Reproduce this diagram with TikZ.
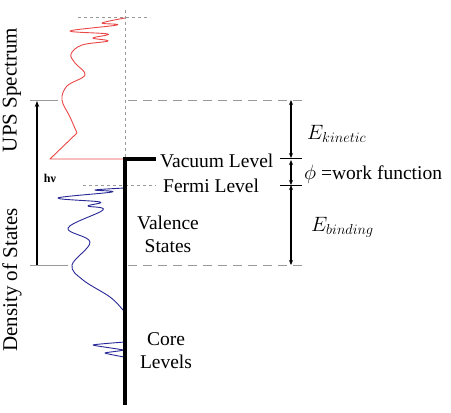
\documentclass[tikz,border=0pt]{standalone}
\usepackage{fontspec}
\setmainfont{Liberation Serif}
\usetikzlibrary{arrows.meta}

\definecolor{upsred}{RGB}{235,70,70}
\definecolor{dosblue}{RGB}{40,40,150}

\begin{document}
\begin{tikzpicture}[
    x=1pt, y=-1pt,
    level/.style={line width=3.4pt, black},
    guide/.style={gray!80, line width=0.8pt, dash pattern=on 3pt off 3pt},
    longguide/.style={gray!80, line width=0.8pt, dash pattern=on 9pt off 6pt},
    rule/.style={gray!80, line width=0.8pt},
    tick/.style={black, line width=0.9pt},
    gap/.style={{Stealth[length=5pt,width=4pt]}-{Stealth[length=5pt,width=4pt]},
                line width=1.3pt},
    photon/.style={-{Stealth[length=6pt,width=4.5pt]}, line width=1.3pt},
    spec/.style={line width=0.9pt, line join=round},
    label/.style={font=\fontsize{19.5}{23}\selectfont, inner sep=0pt},
    axis/.style={font=\fontsize{21}{24}\selectfont, inner sep=0pt, rotate=90},
]
\useasboundingbox (0,0) rectangle (451,413);

% Levels
\coordinate (vtop)  at (125,10);
\coordinate (vac)   at (125,159);
\coordinate (bot)   at (125,405);
\coordinate (vacR)  at (156,159);
\coordinate (fermL) at (83,185);
\coordinate (fermR) at (156,185);

% Energy scale on the right
\coordinate (kinT) at (291,100);
\coordinate (kinB) at (291,158);
\coordinate (phiT) at (291,160);
\coordinate (phiB) at (291,185);
\coordinate (binB) at (291,265);

% Photon energy
\coordinate (hvB) at (37,265);
\coordinate (hvT) at (37,101);

% Guide lines
\draw[guide] (78,17) -- (150,17);
\draw[guide] (vtop) -- (vac);
\draw[guide] (fermL) -- (fermR);
\draw[rule] (30,100) -- (58,100);
\draw[longguide] (128,100) -- (305,100);
\draw[rule] (30,265) -- (68,265);
\draw[longguide] (128,265) -- (305,265);

% UPS spectrum
\draw[spec, upsred] (vac) -- (50,159) -- (77,133)
    plot[smooth, tension=0.6] coordinates {(77,133) (70,117) (62,100) (67,86)
        (85,75) (75,63) (71,54) (82,45) (108,41) (93,38) (108,34) (70,31)
        (117,25) (102,23) (125,18)};

% Density of states
\draw[spec, dosblue] (125,188)
    plot[smooth, tension=0.6] coordinates {(125,188) (95,190) (112,192) (58,198)
        (100,202) (88,206) (103,210) (68,228) (90,242) (72,265) (83,280)
        (110,297) (123,310) (125,313)};
\draw[spec, dosblue] plot[smooth, tension=0.3] coordinates {(125,342) (93,345)
    (123,350) (105,353) (124,357)};

% Sample energy axis
\draw[level] (vacR) -- (vac) -- (bot);

\node[label, anchor=west] (vaclab) at (160,161) {Vacuum Level};
\node[label, anchor=west] (fermlab) at (163,186) {Fermi Level};
\node[label, align=center] (valence) at (168,234) {Valence\\States};
\node[label, align=center] (core) at (166,351) {Core\\Levels};

% Right-hand energy differences
\draw[tick] (280,158) -- (302,158);
\draw[tick] (280,185) -- (302,185);
\draw[gap] (kinT) -- (kinB);
\draw[gap] (phiT) -- (phiB);
\draw[gap] (phiB) -- (binB);

\node[label, anchor=west] (ekin) at (307,134) {$E_{kinetic}$};
\node[label, anchor=west] (phi) at (304,174) {$\phi$ =work function};
\node[label, anchor=west] (ebin) at (311,227) {$E_{binding}$};

% Photon
\draw[photon] (hvB) -- (hvT);
\node[font=\bfseries\fontsize{12}{14}\selectfont, inner sep=0pt] (hv) at (50,178) {hν};

% Axis titles
\node[axis] (ups) at (12,90) {UPS Spectrum};
\node[axis] (dos) at (12,280) {Density of States};

\end{tikzpicture}
\end{document}
